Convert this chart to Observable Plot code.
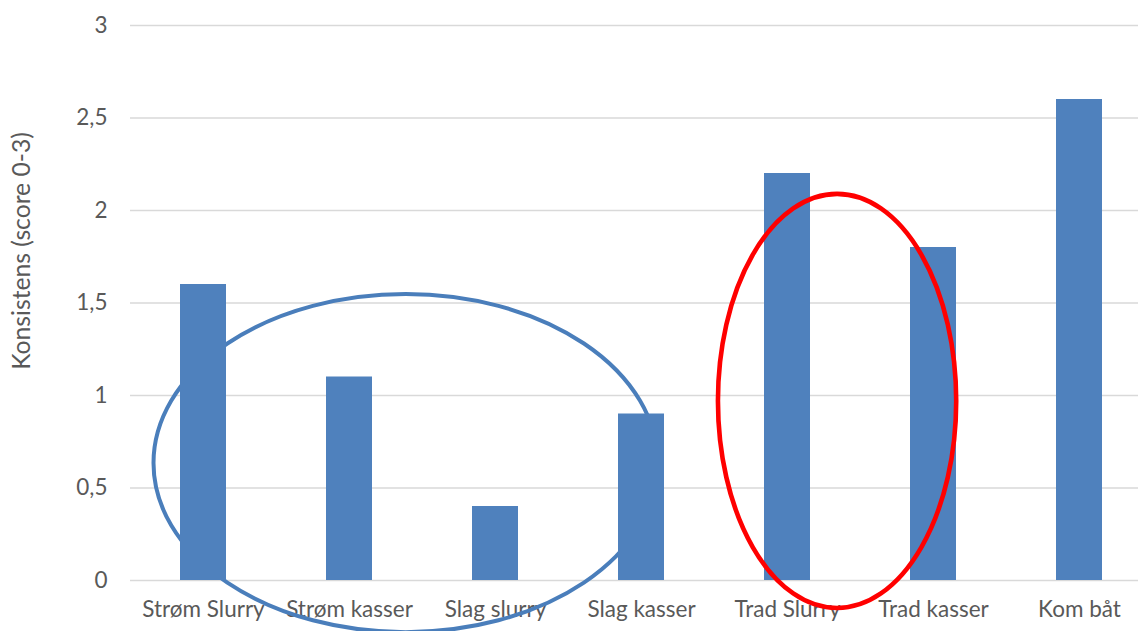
<!DOCTYPE html>
<html>
<head>
<meta charset="utf-8">
<script src="https://cdn.jsdelivr.net/npm/d3@7"></script>
<script src="https://cdn.jsdelivr.net/npm/@observablehq/plot@0.6"></script>
<style>
  html, body { margin: 0; padding: 0; background: #ffffff; overflow: hidden; }
  #chart { width: 1138px; height: 631px; overflow: hidden; }
  #chart svg { max-width: none !important; }
</style>
</head>
<body>
<div id="chart"></div>
<script>
// ---- data ----
const categories = ["Strøm Slurry", "Strøm kasser", "Slag slurry", "Slag kasser", "Trad Slurry", "Trad kasser", "Kom båt"];
const scores = [1.6, 1.1, 0.4, 0.9, 2.2, 1.8, 2.6];
const yTicks = [0, 0.5, 1, 1.5, 2, 2.5, 3];
const yLabel = "Konsistens (score 0-3)";
// annotation ellipses: centre in category-index units (x) and score units (y)
const ellipseColors = ["#4a7ebb", "#ff0000"];
const ellipseCx = [1.388, 4.343];
const ellipseCy = [0.632, 0.968];
const ellipseRx = [1.727, 0.816];
const ellipseRy = [0.914, 1.119];
const ellipseWidths = [4, 4.6];

const rows = categories.map((c, i) => ({category: c, score: scores[i]}));
const ellipses = ellipseColors.map((c, i) => ({stroke: c, cx: ellipseCx[i], cy: ellipseCy[i], rx: ellipseRx[i], ry: ellipseRy[i], sw: ellipseWidths[i]}));

const PAD = 0.685;

function ellipseMark(list) {
  return function (index, scales) {
    const x = scales.x, y = scales.y;
    const x0 = x(categories[0]);
    const step = x(categories[1]) - x0;
    const bw = step * (1 - PAD);
    const g = d3.create("svg:g").attr("fill", "none");
    for (const e of list) {
      g.append("ellipse")
        .attr("cx", x0 + bw / 2 + e.cx * step)
        .attr("cy", y(e.cy))
        .attr("rx", e.rx * step)
        .attr("ry", Math.abs(y(0) - y(e.ry)))
        .attr("stroke", e.stroke)
        .attr("stroke-width", e.sw);
    }
    return g.node();
  };
}

const chart = Plot.plot({
  width: 1152,
  height: 631,
  marginLeft: 130,
  marginRight: 0,
  marginTop: 25,
  marginBottom: 51,
  style: {fontFamily: "Lato, 'Open Sans', sans-serif", fontSize: "22.5px", color: "#595959", background: "#ffffff", overflow: "visible", maxWidth: "none"},
  x: {domain: categories, paddingInner: PAD, paddingOuter: PAD / 2, label: null, tickSize: 0, tickPadding: 21},
  y: {domain: [0, 3], ticks: yTicks, label: null, tickSize: 0, tickPadding: 23, tickFormat: d => String(d).replace(".", ",")},
  marks: [
    Plot.ruleY(yTicks, {stroke: "#d9d9d9", strokeWidth: 1.3}),
    ellipseMark([ellipses[0]]),
    Plot.barY(rows, {x: "category", y: "score", fill: "#4f81bd"}),
    ellipseMark([ellipses[1]]),
    Plot.text([yLabel], {frameAnchor: "left", textAnchor: "middle", lineAnchor: "middle", rotate: -90, dx: -108, dy: -52, fontSize: 24.7, fill: "#595959"})
  ]
});
document.getElementById("chart").appendChild(chart);
</script>
</body>
</html>
